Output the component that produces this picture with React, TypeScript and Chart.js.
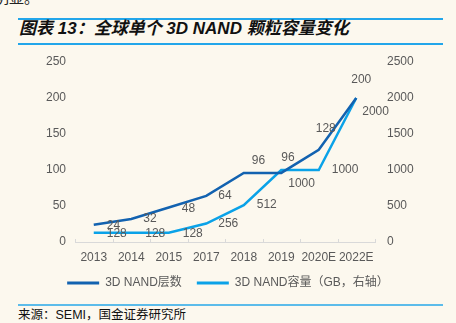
import React, { useEffect, useRef } from "react";
import { Chart, registerables } from "chart.js";
Chart.register(...registerables);

const categories = ["2013", "2014", "2015", "2017", "2018", "2019", "2020E", "2022E"];
const layerCounts = [24, 32, 48, 64, 96, 96, 128, 200];
const capacityGB = [128, 128, 128, 256, 512, 1000, 1000, 2000];
const seriesNames = ["3D NAND层数", "3D NAND容量（GB，右轴）"];
const leftAxis = { min: 0, max: 250, step: 50 };
const rightAxis = { min: 0, max: 2500, step: 500 };

// label placement offsets (style only)
const layerLabelOffsets = [[13, 1], [12, 0], [13, 1], [12, 0], [8, -12], [0, -15], [-3, -21], [-5, -18]];
const capLabelOffsets = [[13, 1], [14, 1], [14, 1], [12, 0], [13, 0], [7, 14], [13, 0], [6, 14]];

const DARK = "#1262b0";
const LIGHT = "#0aa2e8";
const TEXT = "#595959";
const FONT = "'Liberation Sans', Arial, 'Noto Sans CJK SC', sans-serif";

const labelPlugin = {
  id: "valueLabels",
  afterDatasetsDraw(chart: any) {
    const ctx = chart.ctx;
    ctx.save();
    ctx.font = `12px ${FONT}`;
    ctx.fillStyle = TEXT;
    ctx.textAlign = "left";
    ctx.textBaseline = "middle";
    const offs = [layerLabelOffsets, capLabelOffsets];
    chart.data.datasets.forEach((ds: any, i: number) => {
      const meta = chart.getDatasetMeta(i);
      meta.data.forEach((pt: any, j: number) => {
        const [dx, dy] = offs[i][j];
        ctx.fillText(String(ds.data[j]), pt.x + dx, pt.y + dy);
      });
    });
    ctx.restore();
  },
};

const tickPlugin = {
  id: "insideTicks",
  afterDraw(chart: any) {
    const { left, right, bottom } = chart.chartArea;
    const ctx = chart.ctx;
    const n = chart.data.labels.length;
    ctx.save();
    ctx.strokeStyle = "#d9d9d9";
    ctx.lineWidth = 1;
    for (let i = 0; i <= n; i++) {
      const x = Math.round(left + (i * (right - left)) / n) + 0.5;
      ctx.beginPath();
      ctx.moveTo(x, bottom - 3);
      ctx.lineTo(x, bottom);
      ctx.stroke();
    }
    ctx.restore();
  },
};

export default function App() {
  const ref = useRef<HTMLCanvasElement>(null);
  useEffect(() => {
    document.body.style.margin = "0";
    const chart = new Chart(ref.current!, {
      type: "line",
      data: {
        labels: categories,
        datasets: [
          {
            label: seriesNames[0],
            data: layerCounts,
            borderColor: DARK,
            backgroundColor: DARK,
            borderWidth: 2.5,
            pointRadius: 0,
            tension: 0,
            yAxisID: "y",
          },
          {
            label: seriesNames[1],
            data: capacityGB,
            borderColor: LIGHT,
            backgroundColor: LIGHT,
            borderWidth: 2.5,
            pointRadius: 0,
            tension: 0,
            yAxisID: "y1",
          },
        ],
      },
      options: {
        responsive: false,
        animation: false,
        layout: { padding: { top: 12, bottom: 1, left: 0, right: 0 } },
        plugins: {
          tooltip: { enabled: false },
          legend: {
            position: "bottom",
            labels: {
              boxWidth: 32,
              boxHeight: 3,
              padding: 15,
              color: TEXT,
              font: { size: 12, family: FONT },
              generateLabels: (c: any) =>
                Chart.defaults.plugins.legend.labels.generateLabels(c).map((l: any) => ({ ...l, lineWidth: 0 })),
            },
          },
        },
        scales: {
          x: {
            offset: true,
            grid: { display: false, drawTicks: false },
            border: { display: true, color: "#d9d9d9", width: 1 },
            ticks: { color: TEXT, font: { size: 12, family: FONT }, padding: 8, maxRotation: 0, autoSkip: false },
            afterFit: (s: any) => { s.height = 20; },
          },
          y: {
            position: "left",
            min: leftAxis.min,
            max: leftAxis.max,
            ticks: { stepSize: leftAxis.step, color: TEXT, font: { size: 12, family: FONT }, padding: 3, callback: (v: any) => String(v) },
            grid: { display: true, drawOnChartArea: false, drawTicks: true, tickLength: 6, tickColor: "rgba(0,0,0,0)" },
            border: { display: false },
            afterFit: (s: any) => { s.width = 75; },
          },
          y1: {
            position: "right",
            min: rightAxis.min,
            max: rightAxis.max,
            ticks: { stepSize: rightAxis.step, color: TEXT, font: { size: 12, family: FONT }, padding: 3, callback: (v: any) => String(v) },
            grid: { display: true, drawOnChartArea: false, drawTicks: true, tickLength: 9, tickColor: "rgba(0,0,0,0)" },
            border: { display: false },
            afterFit: (s: any) => { s.width = 81; },
          },
        },
      },
      plugins: [labelPlugin, tickPlugin],
    } as any);
    return () => chart.destroy();
  }, []);

  return (
    <div style={{ position: "relative", width: 456, height: 323, background: "#fcf8ee", overflow: "hidden" }}>
      <div style={{ position: "absolute", left: -6, top: -11, fontSize: 15, lineHeight: "15px", fontFamily: "'Noto Sans CJK SC', serif", color: "#222" }}>明显。</div>
      <div style={{ position: "absolute", left: 18, top: 18, width: 425, height: 2, background: "#22a6ea" }} />
      <div style={{ position: "absolute", left: 19, top: 19, height: 20, lineHeight: "20px", fontSize: 17, fontWeight: "bold", fontStyle: "italic", fontFamily: "'Liberation Sans', Arial, 'Noto Sans CJK SC', sans-serif", color: "#111", whiteSpace: "nowrap" }}>
        图表 13：全球单个 3D NAND 颗粒容量变化
      </div>
      <div style={{ position: "absolute", left: 18, top: 43, width: 425, height: 2, background: "#22a6ea" }} />
      <canvas ref={ref} width={456} height={250} style={{ position: "absolute", left: 0, top: 50, width: 456, height: 250 }} />
      <div style={{ position: "absolute", left: 18, top: 304, width: 425, height: 2, background: "#5cbcea" }} />
      <div style={{ position: "absolute", left: 18, top: 307, height: 16, lineHeight: "16px", fontSize: 12.5, fontFamily: "'Liberation Sans', Arial, 'Noto Sans CJK SC', sans-serif", color: "#111", whiteSpace: "nowrap" }}>
        来源：SEMI，国金证券研究所
      </div>
    </div>
  );
}
